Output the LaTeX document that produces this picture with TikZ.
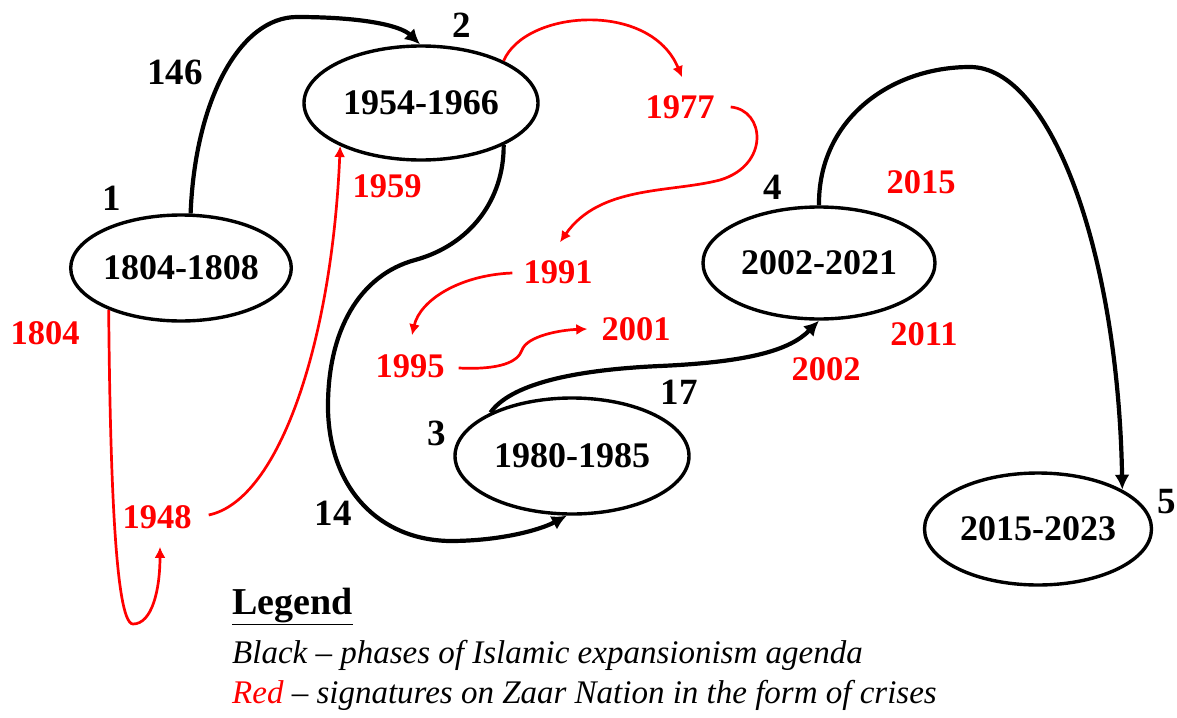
\documentclass[tikz,border=0pt]{standalone}
\usepackage{fontspec}
\setmainfont{Liberation Serif}
\usetikzlibrary{arrows.meta,calc,shapes.geometric}
\definecolor{cred}{RGB}{255,0,0}
\begin{document}
\begin{tikzpicture}[x=1pt,y=-1pt,
  phase/.style 2 args={ellipse,draw,line width=3.4pt,minimum width=#1,minimum height=#2,inner sep=0pt,
    font=\bfseries\fontsize{36}{40}\selectfont},
  numlbl/.style={inner sep=2pt,font=\bfseries\fontsize{37}{42}\selectfont},
  yearlbl/.style={inner sep=2pt,text=cred,font=\bfseries\fontsize{34.5}{40}\selectfont},
  blkarrow/.style={draw=black,line width=4.2pt,-{Latex[length=15pt,width=15pt]}},
  redarrow/.style={draw=cred,line width=2.7pt,-{Latex[length=11pt,width=11pt]}},
  legendtxt/.style={inner sep=0pt,anchor=base west,font=\itshape\fontsize{33}{38}\selectfont}
]
\useasboundingbox (0,0) rectangle (1177,717);

% phase ellipses
\node[phase={214pt}{106pt}] (e1) at (181,268) {1804-1808};
\node[phase={234pt}{114pt}] (e2) at (421,103) {1954-1966};
\node[phase={234pt}{116pt}] (e3) at (572,456) {1980-1985};
\node[phase={232pt}{112pt}] (e4) at (819,263) {2002-2021};
\node[phase={227pt}{112pt}] (e5) at (1038,529) {2015-2023};

% black numbers
\node[numlbl] (n1)   at (112,198) {1};
\node[numlbl] (n146) at (175,72)  {146};
\node[numlbl] (n2)   at (462,25)  {2};
\node[numlbl] (n3)   at (437,433) {3};
\node[numlbl] (n14)  at (333,513) {14};
\node[numlbl] (n17)  at (679,392) {17};
\node[numlbl] (n4)   at (773,187) {4};
\node[numlbl] (n5)   at (1167,502) {5};

% red years
\node[yearlbl] (l1804) at (45,333)  {1804};
\node[yearlbl] (l1959) at (387,186) {1959};
\node[yearlbl] (l1977) at (680,107) {1977};
\node[yearlbl] (l1991) at (558,272) {1991};
\node[yearlbl] (l1995) at (410,366) {1995};
\node[yearlbl] (l2001) at (636,329) {2001};
\node[yearlbl] (l2002) at (826,369) {2002};
\node[yearlbl] (l2011) at (924,334) {2011};
\node[yearlbl] (l2015) at (921,182) {2015};
\node[yearlbl] (l1948) at (157,517) {1948};

% black connectors
\draw[blkarrow] (e1.80) .. controls (195,100) and (240,17) .. (297,17)
   .. controls (360,17) and (400,25) .. (e2.91);
\draw[blkarrow] (e2.-27) .. controls (504,200) and (470,245) .. (415,260)
   .. controls (360,275) and (327,330) .. (328,410)
   .. controls (330,490) and (380,540) .. (450,541)
   .. controls (500,541) and (540,530) .. (e3.-95);
\draw[blkarrow] (e3.152) .. controls (510,385) and (570,370) .. (660,366)
   .. controls (750,362) and (790,350) .. (e4.south);
\draw[blkarrow] (e4.north) .. controls (818,120) and (890,67) .. (970,67)
   .. controls (1050,67) and (1118,250) .. (e5.25);

% red connectors
\draw[redarrow] (e1.210) .. controls (110,450) and (114,624) .. (133,624)
   .. controls (152,624) and (160,590) .. ($(l1948.south)+(3,16)$);
\draw[redarrow] ($(l1948.east)+(15,-2)$) .. controls (280,500) and (332,340) .. (e2.208);
\draw[redarrow] (e2.27) .. controls (525,10) and (650,0) .. ($(l1977.north)+(2,-16)$);
\draw[redarrow] ($(l1977.east)+(14,0)$) .. controls (765,110) and (770,165) .. (720,180)
   .. controls (670,193) and (600,185) .. ($(l1991.north)+(2,-16)$);
\draw[redarrow] ($(l1991.west)+(-9,1)$) .. controls (460,275) and (420,300) .. ($(l1995.north)+(2,-17)$);
\draw[redarrow] ($(l1995.east)+(12,2)$) .. controls (500,370) and (518,362) .. (522,350)
   .. controls (527,336) and (560,330) .. ($(l2001.west)+(-12,0)$);

% legend
\node[inner sep=0pt,anchor=base west,font=\bfseries\fontsize{38}{44}\selectfont] (lg) at (232,614) {\underline{Legend}};
\node[legendtxt] (lb) at (232,663) {Black -- phases of  Islamic expansionism agenda};
\node[legendtxt] (lr) at (232,703) {\textcolor{cred}{Red} -- signatures on Zaar Nation in the form of  crises};
\end{tikzpicture}
\end{document}
